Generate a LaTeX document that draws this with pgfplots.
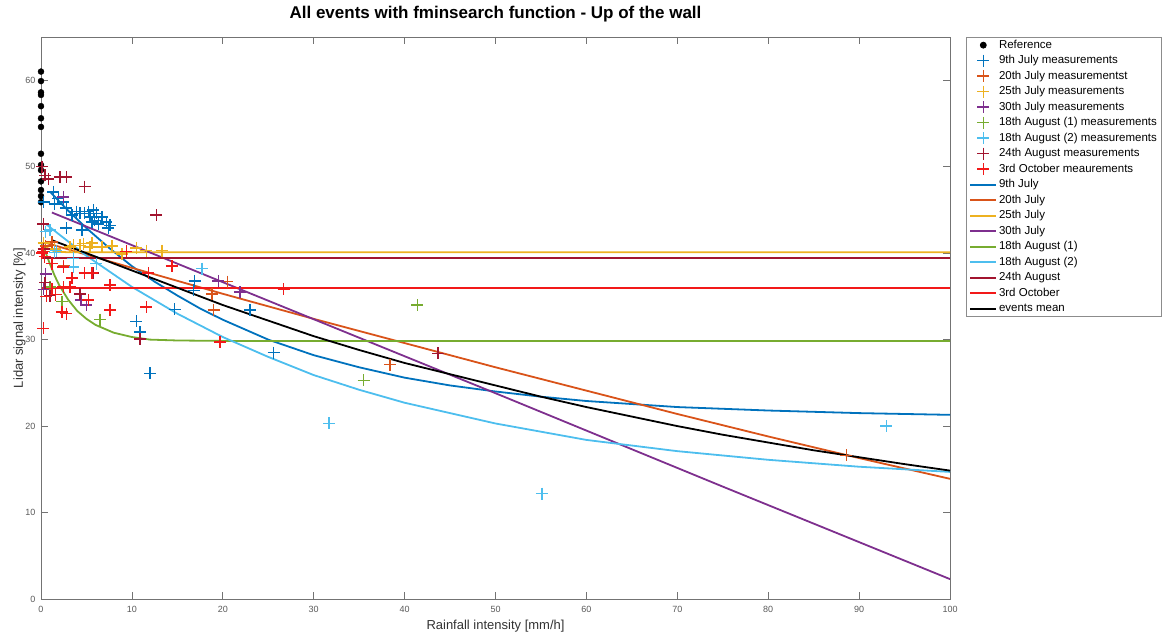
\documentclass[border=0pt]{standalone}
\usepackage{pgfplots}
\pgfplotsset{compat=1.18}
\usepackage{fontspec}
\setmainfont{Liberation Sans}

% matlab default colour order
\definecolor{c1}{rgb}{0,0.447,0.741}
\definecolor{c2}{rgb}{0.850,0.325,0.098}
\definecolor{c3}{rgb}{0.929,0.694,0.125}
\definecolor{c4}{rgb}{0.494,0.184,0.556}
\definecolor{c5}{rgb}{0.466,0.674,0.188}
\definecolor{c6}{rgb}{0.301,0.745,0.933}
\definecolor{c7}{rgb}{0.635,0.078,0.184}
\definecolor{c8}{rgb}{0.95,0.1,0.1}

\pgfplotsset{
  mleg/.style={legend image code/.code={\draw[mark repeat=2,mark phase=2,##1] plot coordinates {(0pt,0pt) (13pt,0pt) (26pt,0pt)};}},
  lleg/.style={legend image code/.code={\draw[##1] (0pt,0pt) -- (26pt,0pt);}},
  meas/.style={only marks, mark=+, mark size=6pt, line width=1.5pt, color=#1, mleg},
  fit/.style={no marks, line width=1.8pt, color=#1, lleg},
}

\begin{document}
\begin{tikzpicture}
\begin{axis}[
  scale only axis, width=909pt, height=562pt,
  xmin=0, xmax=100, ymin=0, ymax=65,
  xtick={0,10,...,100}, ytick={0,10,...,60},
  tick align=inside, tick pos=both, major tick length=7pt,
  axis line style={black!55, line width=0.8pt},
  tick style={black!55, line width=0.8pt},
  tick label style={font=\fontsize{9}{10}\selectfont, text=black!65},
  /pgf/number format/assume math mode=true,
  xticklabel style={yshift=-4pt},
  yticklabel style={xshift=-2pt},
  title={All events with fminsearch function - Up of the wall},
  title style={at={(0.5,1)}, anchor=base, yshift=13pt, font=\bfseries\fontsize{17}{20}\selectfont},
  xlabel={Rainfall intensity [mm/h]},
  ylabel={Lidar signal intensity [\%]},
  label style={font=\fontsize{13}{15}\selectfont, text=black!80},
  xlabel style={at={(axis description cs:0.5,0)}, anchor=base, yshift=-30pt},
  ylabel style={at={(axis description cs:-0.0198,0.5)}, rotate=0, anchor=base},
  legend cell align=left,
  legend style={at={(1.0176,1.0)}, anchor=north west, draw=black!45, line width=0.8pt, fill=white,
    font=\fontsize{11.5}{13}\selectfont, row sep=0pt, inner xsep=3pt, inner ysep=0pt,
    nodes={inner sep=1.8pt, text height=9.1pt, text depth=2.8pt}},
]
% measurements
\addplot[only marks, mark=*, mark size=3pt, black, mleg] coordinates {
  (0,61.0) (0,59.9) (0,58.6) (0,58.3) (0,57.0) (0,55.6) (0,54.6) (0,51.5)
  (0,50.2) (0,49.6) (0,48.3) (0,47.3) (0,46.6) (0,45.9)};
\addplot[meas=c1] coordinates {
  (0.3,45.9) (1.35,47.1) (1.9,46.3) (1.5,45.7) (2.45,45.9) (2.8,45.2) (3.4,44.4)
  (3.9,44.8) (4.3,44.6) (4.8,44.6) (5.2,44.8) (5.4,44.2) (5.75,45.0) (6.1,44.6)
  (5.9,43.8) (6.3,43.4) (6.7,44.2) (7.2,43.6) (7.6,43.2) (7.4,42.9) (2.8,42.9)
  (4.5,42.7) (5.6,43.6) (10.5,32.1) (10.9,30.9) (12.0,26.1) (14.7,33.5)
  (16.8,35.7) (16.9,36.8) (23.0,33.4) (25.6,28.5)};
\addplot[meas=c2] coordinates {
  (0.5,40.8) (1.2,41.3) (2.5,38.5) (18.8,35.3) (19.0,33.4) (20.5,36.7)
  (38.4,27.1) (88.6,16.6)};
\addplot[meas=c3] coordinates {
  (0.3,41.2) (1.5,40.5) (3.2,40.7) (3.55,40.9) (4.3,40.9) (4.65,41.1) (5.4,40.7)
  (5.6,41.2) (6.7,40.7) (7.8,40.8) (8.9,39.9) (10.5,40.6) (11.6,40.3) (13.3,40.3)};
\addplot[meas=c4] coordinates {
  (0.5,37.6) (0.3,35.8) (2.45,46.5) (4.4,34.6) (5.0,34.0) (19.5,36.8) (21.9,35.5)};
\addplot[meas=c5] coordinates {
  (0.3,40.2) (1.0,36.1) (2.3,34.4) (6.5,32.3) (35.5,25.3) (41.4,34.0)};
\addplot[meas=c6] coordinates {
  (0.5,42.5) (1.0,42.7) (1.5,40.1) (1.7,40.3) (3.55,38.4) (3.55,39.4) (6.1,38.8)
  (17.7,38.2) (31.7,20.3) (55.1,12.2) (93.0,20.0)};
\addplot[meas=c7] coordinates {
  (0.1,50.0) (0.45,49.0) (0.8,48.6) (2.1,48.8) (2.8,48.8) (4.8,47.7) (12.7,44.4)
  (0.25,43.4) (0.45,36.6) (1.0,35.1) (4.3,35.3) (5.75,37.7) (10.9,30.1)
  (43.7,28.4) (0.3,40.5)};
\addplot[meas=c8] coordinates {
  (0.1,40.0) (0.25,40.2) (0.4,39.6) (1.2,38.8) (2.45,38.4) (4.8,37.7) (5.6,37.7)
  (3.4,37.1) (3.2,36.1) (2.45,36.1) (1.2,35.9) (7.6,36.3) (5.2,34.6) (2.3,33.2)
  (2.8,33.0) (7.6,33.4) (11.6,33.8) (0.25,31.3) (9.4,40.2) (11.8,37.7)
  (14.4,38.5) (26.7,35.8) (19.7,29.7) (0.6,35.0) (1.6,35.2)};
% fitted curves
\addplot[fit=c1] coordinates {
  (1,47.1) (2,46.0) (3,44.9) (5,42.9) (7.5,40.6) (10,38.5) (12.5,36.7) (15,35.1)
  (17.5,33.6) (20,32.3) (25,30.0) (30,28.2) (35,26.8) (40,25.6) (45,24.7)
  (50,24.0) (55,23.4) (60,22.9) (70,22.2) (80,21.8) (90,21.5) (100,21.3)};
\addplot[fit=c2] coordinates {
  (0.5,41.2) (10,38.3) (20,35.3) (30,32.4) (40,29.6) (50,26.8) (60,24.1)
  (70,21.4) (80,18.8) (90,16.3) (100,13.9)};
\addplot[fit=c3] coordinates {(0.3,40.8) (1.5,40.2) (3,40.1) (100,40.1)};
\addplot[fit=c4] coordinates {(1.2,44.7) (25,34.5) (50,23.8) (75,13.0) (100,2.3)};
\addplot[fit=c5] coordinates {
  (0.2,41.2) (0.5,40.1) (1,38.7) (1.5,37.4) (2,36.3) (3,34.6) (4,33.3) (5,32.4)
  (6,31.7) (8,30.8) (10,30.3) (12,30.0) (15,29.9) (20,29.85) (100,29.85)};
\addplot[fit=c6] coordinates {
  (0.5,43.4) (5,39.7) (10,36.1) (15,33.0) (20,30.3) (25,28.0) (30,25.9)
  (35,24.2) (40,22.7) (50,20.3) (60,18.4) (70,17.1) (80,16.1) (90,15.3) (100,14.7)};
\addplot[fit=c7] coordinates {(0.1,39.4) (100,39.4)};
\addplot[fit=c8] coordinates {(0.1,36.0) (100,36.0)};
\addplot[fit=black] coordinates {
  (1.2,41.5) (5,40.0) (10,38.0) (15,36.0) (20,34.0) (25,32.2) (30,30.4) (35,28.8)
  (40,27.3) (45,26.0) (50,24.7) (55,23.4) (60,22.2) (65,21.1) (70,20.0) (75,19.0)
  (80,18.1) (85,17.2) (90,16.4) (95,15.6) (100,14.85)};
\legend{Reference, 9th July measurements, 20th July measurementst, 25th July measurements,
  30th July measurements, 18th August (1) measurements, 18th August (2) measurements,
  24th August measurements, 3rd October meaurements,
  9th July, 20th July, 25th July, 30th July, 18th August (1), 18th August (2),
  24th August, 3rd October, events mean}
\end{axis}
\pgfresetboundingbox
\path[use as bounding box] (-41pt,-34pt) rectangle (1125pt,599pt);
\end{tikzpicture}
\end{document}
